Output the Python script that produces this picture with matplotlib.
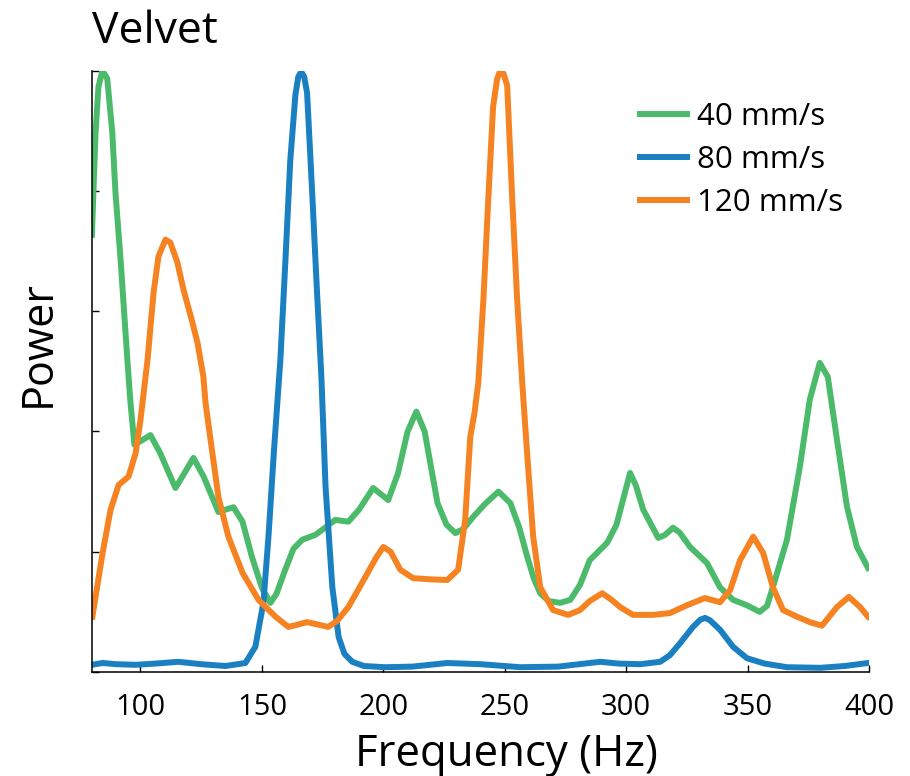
import matplotlib
matplotlib.use("Agg")
import matplotlib.pyplot as plt

plt.rcParams['font.family'] = ['Open Sans', 'DejaVu Sans']

# 40 mm/s
f40 = [80, 81.5, 82.7, 84.3, 86.3, 88.4, 89.7, 91.8, 94.6, 95.9, 97.5, 100.5, 104.1, 108,
       114.4, 118, 121.8, 126, 132.1, 135, 138.3, 142, 146, 150, 153.5, 156, 159.6, 163,
       166.6, 172, 176, 180.2, 185.6, 190, 195.8, 202, 206, 210, 213.6, 217, 222.3, 226,
       229.7, 233, 237, 242, 247.4, 252.3, 256, 259.3, 262, 264.6, 268, 272.8, 277, 281,
       285, 292.2, 296, 301.6, 304, 307, 313.2, 316, 319.3, 322, 326.3, 333.3, 338.6, 344,
       349.7, 355, 358, 360.4, 366.2, 371.5, 375.6, 379.7, 383, 386.8, 390.9, 395, 399.6]
p40 = [0.727, 0.897, 0.973, 1.0, 0.987, 0.897, 0.797, 0.686, 0.519, 0.447, 0.378, 0.385, 0.394, 0.365,
       0.306, 0.33, 0.356, 0.325, 0.266, 0.27, 0.274, 0.25, 0.19, 0.14, 0.115, 0.13, 0.170, 0.205,
       0.220, 0.228, 0.24, 0.253, 0.250, 0.27, 0.306, 0.286, 0.33, 0.4, 0.433, 0.4, 0.281, 0.245,
       0.231, 0.238, 0.258, 0.28, 0.300, 0.281, 0.24, 0.191, 0.155, 0.131, 0.118, 0.115, 0.120, 0.145,
       0.186, 0.215, 0.245, 0.331, 0.31, 0.27, 0.223, 0.228, 0.240, 0.232, 0.208, 0.181, 0.141, 0.12,
       0.111, 0.1, 0.11, 0.141, 0.220, 0.341, 0.453, 0.514, 0.491, 0.386, 0.275, 0.208, 0.173]

# 80 mm/s
f80 = [80, 84.4, 90, 98, 106, 115.6, 125, 135, 143.2, 147.3, 150.6, 152.7, 155, 157.6, 159.7,
       161.7, 163.8, 165, 166.2, 167.4, 168.6, 170.7, 172.7, 174.5, 176.2, 179, 181.6, 184, 187.2, 192,
       200.8, 212, 226.3, 240, 256.4, 272, 289.3, 297, 305.8, 314, 318, 322.2, 327.5, 330.5, 332.5,
       334.5, 338.7, 344, 349.7, 357, 366.2, 380, 390, 399.6]
p80 = [0.012, 0.015, 0.013, 0.012, 0.014, 0.017, 0.013, 0.010, 0.015, 0.042, 0.115, 0.225, 0.37, 0.519, 0.686,
       0.852, 0.96, 0.99, 0.998, 0.99, 0.963, 0.797, 0.631, 0.49, 0.308, 0.141, 0.058, 0.03, 0.017, 0.01,
       0.008, 0.009, 0.015, 0.013, 0.008, 0.009, 0.017, 0.014, 0.013, 0.017, 0.028, 0.048, 0.075, 0.087, 0.09,
       0.086, 0.07, 0.042, 0.023, 0.014, 0.008, 0.007, 0.01, 0.015]

# 120 mm/s
f120 = [80.2, 84.4, 87.7, 91, 95.1, 98, 100, 102.9, 105.4, 107.4, 110.3, 112.3, 115.2, 117.7, 121.4,
        123.5, 125.9, 126.8, 129.6, 132.1, 136.2, 142, 148.6, 155.6, 160.9, 164, 168.6, 173, 177.3,
        181, 185.6, 192.6, 197, 200, 203, 207, 212.3, 220, 226.3, 230.8, 233.7, 235.8, 237.5, 239.1, 241.2,
        243.2, 245.2, 246.8, 248.1, 249.5, 251, 253.1, 255.1, 257.2, 259.2, 261.7, 264.6, 269.9, 276.1, 281, 285,
        290.1, 294, 297.5, 302.8, 311, 318, 325, 332.4, 338.6, 342.8, 346.9, 352.3, 356.4, 360.4,
        364.6, 370.3, 375.6, 380.6, 386.8, 391.7, 396.3, 399.6]
p120 = [0.092, 0.198, 0.27, 0.311, 0.325, 0.364, 0.419, 0.519, 0.631, 0.691, 0.719, 0.714, 0.681, 0.636, 0.581,
        0.547, 0.491, 0.447, 0.364, 0.291, 0.225, 0.165, 0.12, 0.092, 0.075, 0.078, 0.083, 0.079, 0.075,
        0.085, 0.108, 0.158, 0.19, 0.208, 0.2, 0.170, 0.156, 0.154, 0.153, 0.17, 0.253, 0.391, 0.43, 0.481, 0.619,
        0.785, 0.94, 0.985, 1.0, 0.995, 0.975, 0.785, 0.619, 0.481, 0.364, 0.225, 0.141, 0.103, 0.095, 0.103, 0.118,
        0.131, 0.12, 0.108, 0.095, 0.095, 0.098, 0.111, 0.123, 0.116, 0.136, 0.186, 0.225, 0.198, 0.141,
        0.103, 0.092, 0.083, 0.077, 0.108, 0.125, 0.108, 0.092]

green = '#4bbb6b'
blue = '#1a80c2'
orange = '#f58322'

fig = plt.figure(figsize=(9.1, 7.76), dpi=100)
ax = fig.add_axes([0.101, 0.134, 0.854, 0.775])

lw = 4.3
ax.plot(f40, p40, color=green, lw=lw, label='40 mm/s', solid_joinstyle='round')
ax.plot(f80, p80, color=blue, lw=lw, label='80 mm/s', solid_joinstyle='round')
ax.plot(f120, p120, color=orange, lw=lw, label='120 mm/s', solid_joinstyle='round')

ax.set_xlim(80, 400)
ax.set_ylim(0, 1)
ax.set_xticks([100, 150, 200, 250, 300, 350, 400])
ax.set_yticks([0, 0.2, 0.4, 0.6, 0.8, 1.0])
ax.set_yticklabels([])
ax.tick_params(direction='in', length=5, width=1, labelsize=21, pad=15)
ax.spines['top'].set_visible(False)
ax.spines['right'].set_visible(False)
ax.spines['left'].set_linewidth(1.1)
ax.spines['bottom'].set_linewidth(1.1)

ax.set_xlabel('Frequency (Hz)', fontsize=31.5)
ax.xaxis.set_label_coords(0.533, -0.1)
ax.set_ylabel('Power', fontsize=31)
ax.yaxis.set_label_coords(-0.04, 0.546)
fig.text(0.101, 0.945, 'Velvet', fontsize=32, ha='left', va='baseline')

ax.legend(loc='upper left', bbox_to_anchor=(0.69, 0.885), bbox_transform=fig.transFigure,
          frameon=False, fontsize=22.5, handlelength=1.5, handletextpad=0.3, labelspacing=0.42,
          borderaxespad=0)

fig.savefig('out.png', dpi=100)
